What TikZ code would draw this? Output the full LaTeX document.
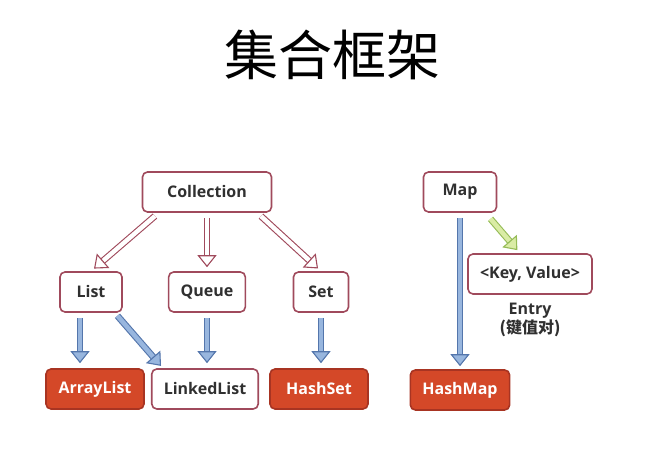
\documentclass[tikz,border=0pt]{standalone}
\usepackage{fontspec}
\setmainfont{Open Sans}
\newfontfamily\cjk{Noto Sans CJK SC}
\usetikzlibrary{positioning,arrows.meta}

\definecolor{boxline}{RGB}{160,74,92}
\definecolor{redfill}{RGB}{212,72,40}
\definecolor{redline}{RGB}{168,52,34}
\definecolor{bluefill}{RGB}{152,182,222}
\definecolor{blueline}{RGB}{84,118,172}
\definecolor{greenfill}{RGB}{218,236,165}
\definecolor{greenline}{RGB}{150,188,88}
\definecolor{textgray}{RGB}{48,48,48}

\begin{document}
\begin{tikzpicture}[x=1pt, y=1pt, node distance=100pt, font=\bfseries\fontsize{16}{19}\selectfont]
    \tikzset{
      box/.style = {rectangle, rounded corners=5pt, minimum height=40pt, inner xsep=12pt, text centered, draw=boxline, line width=1.6pt, fill=white, text=textgray},
      leaf/.style = {box, minimum width=98pt},
      redleaf/.style = {leaf, draw=redline, fill=redfill, text=white},
      hollow/.style = {draw=boxline, line width=1.1pt, double=white, double distance=4.5pt, -{Triangle[length=12pt, width=19pt, fill=white]}},
      impl/.style = {hollow, draw=blueline, double=bluefill, -{Triangle[length=12pt, width=19pt, fill=bluefill]}},
      entryarrow/.style = {hollow, draw=greenline, double=greenfill, -{Triangle[length=12pt, width=19pt, fill=greenfill]}}
    }
    \useasboundingbox (0,0) rectangle (657,452);

    % title
    \node (title) at (332,397) {\cjk\mdseries\fontsize{54}{60}\selectfont 集合框架};

    % Collection side
    \node (coll) [box, minimum width=129pt] at (207,260) {Collection};
    \node (queue) [box, minimum width=73pt, below of=coll] {Queue};
    \node (list) [box, minimum width=62pt, left of=queue, xshift=-16pt] {List};
    \node (set) [box, minimum width=55pt, right of=queue, xshift=14pt] {Set};
    \node (arrlist) [redleaf, below of=list, xshift=4pt, yshift=3pt] {ArrayList};
    \node (linked) [leaf, below of=queue, xshift=-2pt, yshift=3pt] {LinkedList};
    \node (hashset) [redleaf, below of=set, xshift=-2pt, yshift=3pt] {HashSet};

    % Map side
    \node (map) [box, minimum width=73pt] at (460,260) {Map};
    \node (kv) [box, minimum width=124pt, right of=map, xshift=-30pt, yshift=-82pt] {<Key, Value>};
    \node (entry) [below of=kv, yshift=54pt, align=center, text=textgray] {Entry\\{\cjk(键值对)}};
    \node (hashmap) [redleaf, below of=map, yshift=-98pt] {HashMap};

    \draw [hollow, shorten <=5pt, shorten >=4pt] ([xshift=17pt]coll.south west) -- (list.north);
    \draw [hollow, shorten <=5pt, shorten >=4pt] (coll.south) -- (queue.north);
    \draw [hollow, shorten <=5pt, shorten >=4pt] ([xshift=-15pt]coll.south east) -- (set.north);
    \draw [impl, shorten <=5pt, shorten >=5pt] ([xshift=-11pt]list.south) -- ([xshift=-15pt]arrlist.north);
    \draw [impl, shorten <=4pt, shorten >=3pt] ([xshift=-8pt]list.south east) -- ([xshift=12pt]linked.north west);
    \draw [impl, shorten <=5pt, shorten >=5pt] (queue.south) -- (queue.south |- linked.north);
    \draw [impl, shorten <=5pt, shorten >=5pt] (set.south) -- (set.south |- hashset.north);
    \draw [impl, shorten <=5pt, shorten >=3pt] (map.south) -- (hashmap.north);
    \draw [entryarrow, shorten <=8pt, shorten >=4pt] ([xshift=-12pt]map.south east) -- ([xshift=-10pt]kv.north);
\end{tikzpicture}
\end{document}
